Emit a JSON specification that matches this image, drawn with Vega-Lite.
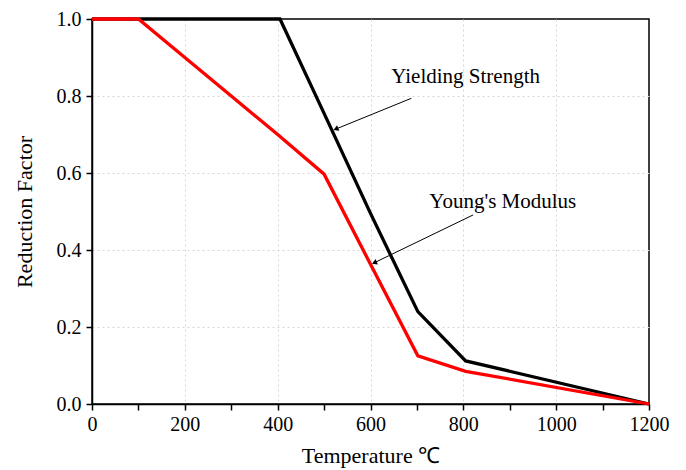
{
  "$schema": "https://vega.github.io/schema/vega-lite/v6.json",
  "width": 557,
  "height": 385,
  "autosize": {"type": "none"},
  "padding": {"left": 92, "top": 19, "right": 37, "bottom": 66},
  "background": "white",
  "config": {
    "view": {"stroke": "black", "strokeWidth": 1.5},
    "font": "Liberation Serif",
    "axis": {
      "labelFont": "Liberation Serif",
      "titleFont": "Liberation Serif",
      "labelFontSize": 20,
      "titleFontSize": 22,
      "titleFontWeight": "normal",
      "labelColor": "black",
      "titleColor": "black",
      "tickColor": "black",
      "tickSize": 6,
      "tickWidth": 1.5,
      "domainColor": "black",
      "domainWidth": 1.5,
      "gridColor": "#d6d6d6",
      "gridDash": [2, 3],
      "gridWidth": 1,
      "labelOverlap": false,
      "labelFlush": false
    }
  },
  "datasets": {
    "curves": [
      {"series": "Yielding Strength", "T": 0, "f": 1.0},
      {"series": "Yielding Strength", "T": 100, "f": 1.0},
      {"series": "Yielding Strength", "T": 200, "f": 1.0},
      {"series": "Yielding Strength", "T": 300, "f": 1.0},
      {"series": "Yielding Strength", "T": 405, "f": 1.0},
      {"series": "Yielding Strength", "T": 500, "f": 0.755},
      {"series": "Yielding Strength", "T": 600, "f": 0.495},
      {"series": "Yielding Strength", "T": 702, "f": 0.24},
      {"series": "Yielding Strength", "T": 805, "f": 0.112},
      {"series": "Yielding Strength", "T": 1200, "f": 0.0},
      {"series": "Young's Modulus", "T": 0, "f": 1.0},
      {"series": "Young's Modulus", "T": 100, "f": 1.0},
      {"series": "Young's Modulus", "T": 200, "f": 0.9},
      {"series": "Young's Modulus", "T": 300, "f": 0.8},
      {"series": "Young's Modulus", "T": 400, "f": 0.7},
      {"series": "Young's Modulus", "T": 500, "f": 0.597},
      {"series": "Young's Modulus", "T": 600, "f": 0.363},
      {"series": "Young's Modulus", "T": 702, "f": 0.125},
      {"series": "Young's Modulus", "T": 805, "f": 0.085},
      {"series": "Young's Modulus", "T": 1200, "f": 0.0}
    ],
    "labels": [
      {"label": "Yielding Strength", "T": 805, "f": 0.85},
      {"label": "Young's Modulus", "T": 885, "f": 0.525}
    ],
    "arrows": [
      {"T": 688, "f": 0.794, "T2": 527, "f2": 0.715},
      {"T": 821, "f": 0.491, "T2": 610, "f2": 0.368}
    ]
  },
  "layer": [
    {
      "data": {"name": "curves"},
      "mark": {"type": "line", "strokeWidth": 3.3, "clip": false},
      "encoding": {
        "x": {
          "field": "T",
          "type": "quantitative",
          "title": "Temperature ℃",
          "scale": {"domain": [0, 1200], "nice": false, "zero": false},
          "axis": {
            "values": [0, 100, 200, 300, 400, 500, 600, 700, 800, 900, 1000, 1100, 1200],
            "labelExpr": "datum.value % 200 === 0 ? datum.label : ''",
            "format": "d",
            "grid": true,
            "gridOpacity": {"condition": {"test": "datum.value % 200 === 0 && datum.value > 0 && datum.value < 1200", "value": 1}, "value": 0},
            "labelPadding": 4,
            "titlePadding": 11
          }
        },
        "y": {
          "field": "f",
          "type": "quantitative",
          "title": "Reduction Factor",
          "scale": {"domain": [0, 1], "nice": false},
          "axis": {
            "values": [0, 0.1, 0.2, 0.3, 0.4, 0.5, 0.6, 0.7, 0.8, 0.9, 1.0],
            "labelExpr": "round(datum.value * 10) % 2 === 0 ? format(datum.value, '.1f') : ''",
            "grid": true,
            "gridOpacity": {"condition": {"test": "round(datum.value * 10) % 2 === 0 && datum.value > 0.05 && datum.value < 0.95", "value": 1}, "value": 0},
            "labelPadding": 5,
            "titlePadding": 20
          }
        },
        "color": {
          "field": "series",
          "type": "nominal",
          "scale": {"domain": ["Yielding Strength", "Young's Modulus"], "range": ["black", "#ff0000"]},
          "legend": null
        }
      }
    },
    {
      "data": {"name": "arrows"},
      "mark": {"type": "rule", "color": "black", "strokeWidth": 1},
      "encoding": {
        "x": {"field": "T", "type": "quantitative", "title": "Temperature ℃"},
        "y": {"field": "f", "type": "quantitative", "title": "Reduction Factor"},
        "x2": {"field": "T2"},
        "y2": {"field": "f2"}
      }
    },
    {
      "data": {"name": "arrows"},
      "mark": {"type": "point", "shape": "triangle", "filled": true, "size": 35, "angle": 247, "color": "black", "opacity": 1},
      "encoding": {
        "x": {"field": "T2", "type": "quantitative", "title": "Temperature ℃"},
        "y": {"field": "f2", "type": "quantitative", "title": "Reduction Factor"}
      }
    },
    {
      "data": {"name": "labels"},
      "mark": {"type": "text", "font": "Liberation Serif", "fontSize": 21, "color": "black", "align": "center", "baseline": "middle"},
      "encoding": {
        "x": {"field": "T", "type": "quantitative", "title": "Temperature ℃"},
        "y": {"field": "f", "type": "quantitative", "title": "Reduction Factor"},
        "text": {"field": "label"}
      }
    }
  ]
}
